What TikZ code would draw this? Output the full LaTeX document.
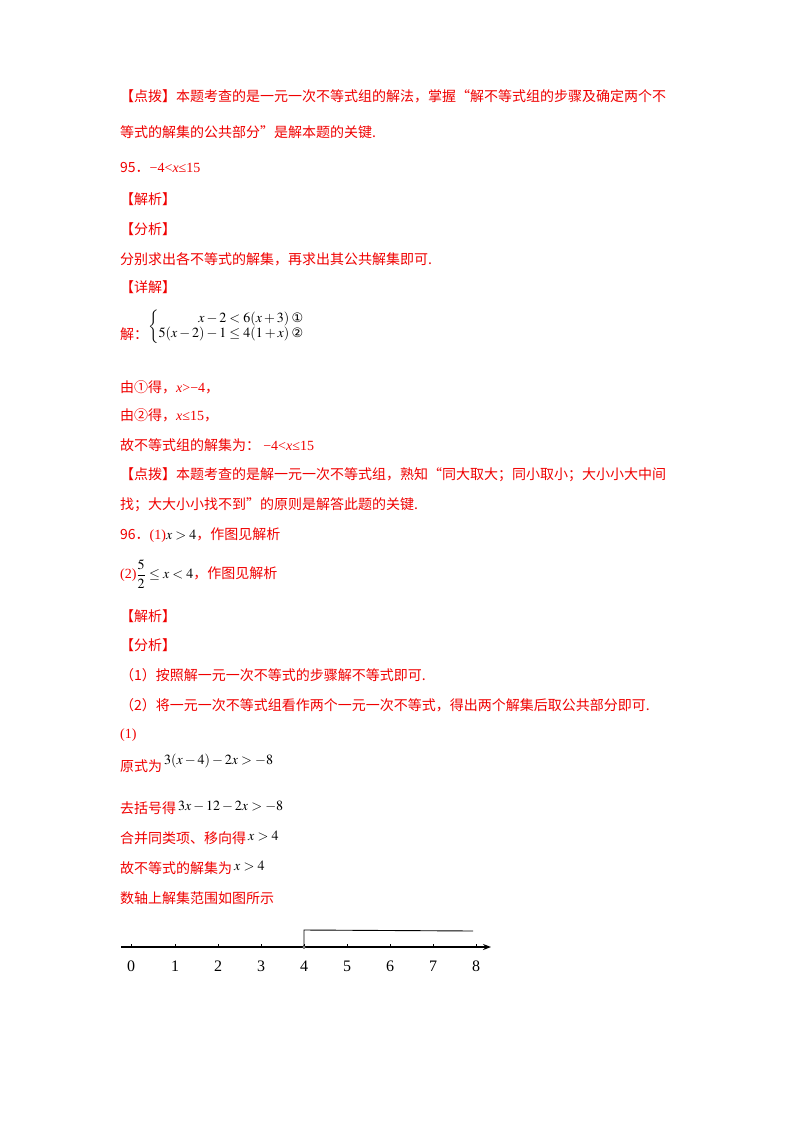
\documentclass[tikz,border=0pt]{standalone}
\usepackage{amsmath}
\usepackage{mathptmx}
\usepackage{fontspec}
\setmainfont{Liberation Serif}
\newfontfamily\cjk{Noto Sans CJK SC}
\newfontfamily\dv{DejaVu Sans}
\usetikzlibrary{arrows.meta}
\definecolor{rd}{RGB}{240,0,0}
\begin{document}
\begin{tikzpicture}[x=1pt,y=-1pt,
  t/.style={anchor=west,inner sep=0pt,text=rd,font=\fontsize{14}{14}\selectfont\cjk},
  m/.style={anchor=west,inner sep=0pt,text=black,font=\fontsize{14}{14}\selectfont},
  lab/.style={inner sep=0pt,font=\fontsize{16}{16}\selectfont}]
\useasboundingbox[fill=white] (0,0) rectangle (800,1132);
\node[t] (l1) at (120,96) {【点拨】本题考查的是一元一次不等式组的解法，掌握“解不等式组的步骤及确定两个不};
\node[t] (l2) at (120,132) {等式的解集的公共部分”是解本题的关键.};
\node[t] (l3) at (120,168) {95．{\rmfamily −4<\textit{x}≤15}};
\node[t] (l4) at (120,199) {【解析】};
\node[t] (l5) at (120,229) {【分析】};
\node[t] (l6) at (120,259) {分别求出各不等式的解集，再求出其公共解集即可.};
\node[t] (l7) at (120,287) {【详解】};
\node[t] (l8) at (120,334) {解：};
\node[m] (sys) at (148,327) {\renewcommand\arraystretch{1.05}$\left\{\begin{array}{@{}r@{}l@{}}x-2<6(x+3)&\mbox{\,\dv\fontsize{13}{13}\selectfont ①}\\5(x-2)-1\le 4(1+x)&\mbox{\,\dv\fontsize{13}{13}\selectfont ②}\end{array}\right.$};
\node[t] (l9) at (120,387) {由①得，{\rmfamily\textit{x}>−4}，};
\node[t] (l10) at (120,415) {由②得，{\rmfamily\textit{x}≤15}，};
\node[t] (l11) at (120,445) {故不等式组的解集为： {\rmfamily −4<\textit{x}≤15}};
\node[t] (l12) at (120,475) {【点拨】本题考查的是解一元一次不等式组，熟知“同大取大；同小取小；大小小大中间};
\node[t] (l13) at (120,505) {找；大大小小找不到”的原则是解答此题的关键.};
\node[t] (l14) at (120,535) {96．{\rmfamily(1)}\textcolor{black}{\rmfamily$x>4$}，作图见解析};
\node[t] (l15) at (120,574) {{\rmfamily(2)}\textcolor{black}{\rmfamily$\dfrac{5}{2}\le x<4$}，作图见解析};
\node[t] (l16) at (120,616) {【解析】};
\node[t] (l17) at (120,645) {【分析】};
\node[t] (l18) at (120,675) {（1）按照解一元一次不等式的步骤解不等式即可.};
\node[t] (l19) at (120,705) {（2）将一元一次不等式组看作两个一元一次不等式，得出两个解集后取公共部分即可.};
\node[t] (l20) at (120,735) {{\rmfamily(1)}};
\node[t] (l21) at (120,766) {原式为};
\node[m] (e1) at (164,761) {$3(x-4)-2x>-8$};
\node[t] (l22) at (120,808) {去括号得};
\node[m] (e2) at (178,806) {$3x-12-2x>-8$};
\node[t] (l23) at (120,838) {合并同类项、移向得};
\node[m] (e3) at (248,836) {$x>4$};
\node[t] (l24) at (120,868) {故不等式的解集为};
\node[m] (e4) at (234,866) {$x>4$};
\node[t] (l25) at (120,898) {数轴上解集范围如图所示};
% number line
\coordinate (a0) at (121,947);
\coordinate (a1) at (491,947);
\draw[line width=1.2pt,-{Stealth[length=8pt,width=6pt]}] (a0) -- (a1);
\foreach \i/\x in {0/131,1/175,2/218,3/261,4/304,5/347,6/390,7/433,8/476}{
  \draw[line width=0.8pt] (\x,947) -- (\x,944);
  \node[lab] (n\i) at (\x,966) {\i};
}
\coordinate (b0) at (304,947);
\coordinate (b1) at (304,930);
\coordinate (b2) at (473,931);
\draw[line width=0.9pt] (b0) -- (b1) -- (b2);
\fill[white,draw=black,line width=0.6pt] (b0) circle (1.5pt);
\end{tikzpicture}
\end{document}
